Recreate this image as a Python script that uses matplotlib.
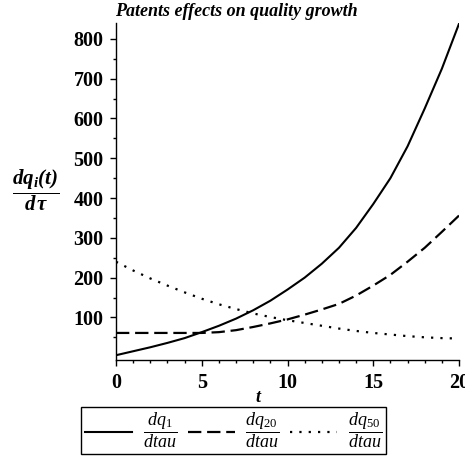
import matplotlib
matplotlib.use('Agg')
import matplotlib.pyplot as plt
import numpy as np

# values at t = 0, 1, ..., 20
t = np.arange(0, 21)
dq1 = [5, 15, 25, 36, 48, 63, 79, 97, 118, 142, 170, 200, 235, 275, 325,
       385, 450, 530, 625, 725, 838]
dq20 = [61, 61, 61, 61, 61, 61, 63, 68, 76, 85, 95, 107, 120, 134, 155,
        180, 207, 240, 275, 315, 356]
dq50 = [240, 218, 198, 180, 163, 147, 133, 121, 110, 101, 93, 86, 79, 72, 66,
        61, 57, 53, 50, 48, 47]
labels = [r'$\dfrac{dq_1}{dtau}$', r'$\dfrac{dq_{20}}{dtau}$', r'$\dfrac{dq_{50}}{dtau}$']

plt.rcParams['font.family'] = ['Liberation Serif', 'DejaVu Serif']
plt.rcParams['mathtext.fontset'] = 'custom'
plt.rcParams['mathtext.rm'] = 'Liberation Serif'
plt.rcParams['mathtext.it'] = 'Liberation Serif:italic'
plt.rcParams['mathtext.bf'] = 'Liberation Serif:bold'
plt.rcParams['mathtext.bfit'] = 'Liberation Serif:bold:italic'

W, H = 465, 462
fig = plt.figure(figsize=(W / 100, H / 100), dpi=100)
ax = fig.add_axes([116 / W, 1 - 360 / H, (459 - 116) / W, (360 - 23) / H])

l1, = ax.plot(t, dq1, color='black', lw=1.5)
l2, = ax.plot(t, dq20, color='black', lw=1.6, linestyle=(0, (6, 2.6)))
l3, = ax.plot(t, dq50, color='black', lw=1.6, linestyle=(0, (1, 3.2)))

ax.set_xlim(0, 20)
ax.set_ylim(-7, 840)
ax.set_xticks([0, 5, 10, 15, 20])
ax.set_xticks(np.arange(0, 21, 1), minor=True)
ax.set_yticks([100, 200, 300, 400, 500, 600, 700, 800])
ax.set_yticks(np.arange(50, 840, 50), minor=True)
for s in ['top', 'right']:
    ax.spines[s].set_visible(False)
for s in ['left', 'bottom']:
    ax.spines[s].set_linewidth(1.0)
ax.tick_params(which='major', direction='out', length=4, width=1,
               labelsize=14.5, pad=5)
ax.tick_params(which='minor', direction='out', length=2.5, width=1)
for lab in ax.get_xticklabels() + ax.get_yticklabels():
    lab.set_fontweight('bold')

fig.text(236 / W, 1 - 12 / H, 'Patents effects on quality growth',
         ha='center', va='center', fontsize=13, fontweight='bold',
         fontstyle='italic')
fig.text(258 / W, 1 - 398 / H, 't', ha='center', va='center', fontsize=13,
         fontweight='bold', fontstyle='italic')
fig.text(36 / W, 1 - 190 / H,
         r'$\dfrac{\mathbfit{dq_i(t)}}{\mathbfit{d\,\tau}}$',
         ha='center', va='center', fontsize=15)

leg = fig.legend([l1, l2, l3], labels, loc='center',
                 bbox_to_anchor=(233.5 / W, 1 - 430.5 / H), ncol=3,
                 fontsize=13, handlelength=2.6, handletextpad=0.6,
                 columnspacing=0.6, borderpad=0.2, fancybox=False,
                 framealpha=1, edgecolor='black')
leg.get_frame().set_linewidth(1.0)

fig.savefig('out.png', dpi=100)
